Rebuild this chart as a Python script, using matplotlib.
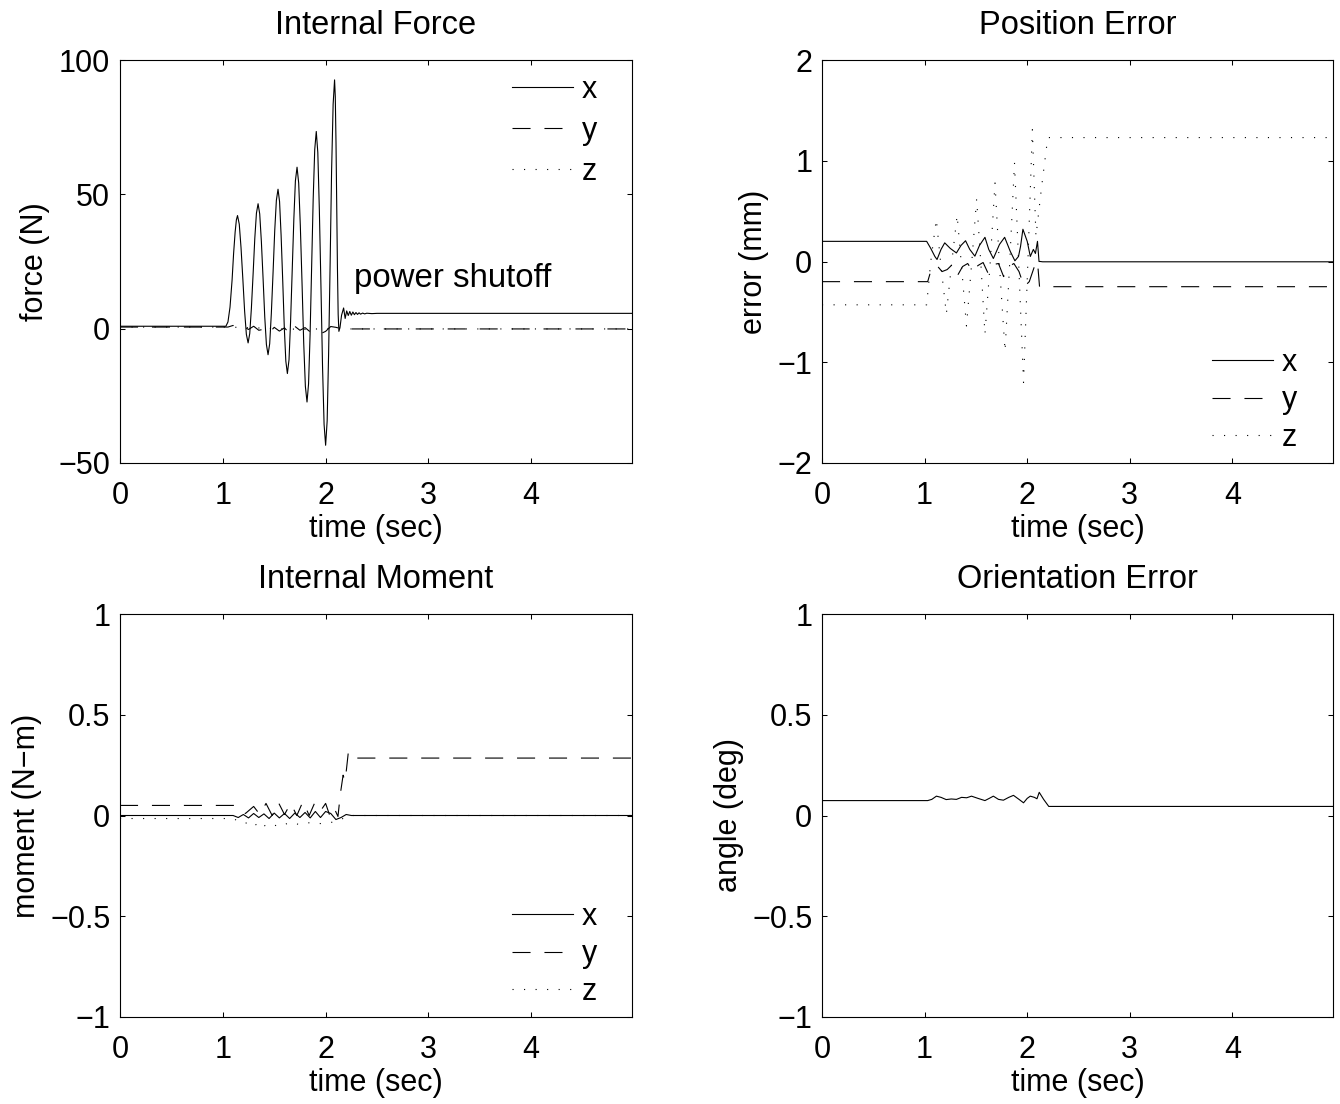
import matplotlib
matplotlib.use("Agg")
import matplotlib.pyplot as plt

plt.rcParams['font.family'] = ['Liberation Sans', 'DejaVu Sans']
plt.rcParams['font.size'] = 22
plt.rcParams['lines.scale_dashes'] = False

# ---------------- data ----------------
T_END = 4.98

# Internal Force (N)
force_x_t = [0, 1.03, 1.05, 1.07, 1.09, 1.105, 1.12, 1.132, 1.143,
             1.160, 1.177, 1.195, 1.212, 1.229, 1.246,
             1.262, 1.278, 1.295, 1.311, 1.327, 1.343,
             1.359, 1.375, 1.392, 1.408, 1.424, 1.44,
             1.456, 1.472, 1.489, 1.505, 1.521, 1.537,
             1.552, 1.567, 1.583, 1.598, 1.613, 1.628,
             1.644, 1.659, 1.675, 1.691, 1.706, 1.722,
             1.738, 1.754, 1.771, 1.787, 1.803, 1.819,
             1.834, 1.849, 1.864, 1.879, 1.894, 1.909,
             1.924, 1.939, 1.955, 1.970, 1.985, 2.0,
             2.015, 2.029, 2.044, 2.058, 2.073, 2.087,
             2.094, 2.101, 2.108, 2.115, 2.122, 2.129,
             2.14, 2.155, 2.175, 2.19, 2.205, 2.22, 2.235, 2.25, 2.265, 2.28,
             2.295, 2.31, 2.325, 2.34, 2.36, 2.38, 2.40, 2.45, 2.5, T_END]
force_x_v = [0.9, 0.9, 2.5, 8, 18, 28, 36, 40.5, 42.1,
             38.9, 30.25, 18.4, 6.55, -2.1, -5.3,
             -1.8, 7.65, 20.6, 33.55, 43.0, 46.5,
             42.7, 32.45, 18.4, 4.35, -5.9, -9.7,
             -5.6, 5.7, 21.1, 36.5, 47.8, 51.9,
             47.3, 34.75, 17.6, 0.45, -12.1, -16.7,
             -11.55, 2.5, 21.7, 40.9, 55.0, 60.1,
             54.2, 38.25, 16.4, -5.45, -21.45, -27.3,
             -20.55, -2.1, 23.05, 48.2, 66.65, 73.4,
             65.6, 44.2, 15.0, -14.2, -35.6, -43.4,
             -34.3, -9.4, 24.6, 58.6, 83.5, 92.6,
             86.3, 69.2, 45.8, 22.4, 5.3, -1.0,
             0.5, 5.0, 7.7, 3.8, 6.6, 4.9, 6.4, 5.0, 6.2, 5.2,
             6.0, 5.3, 5.9, 5.4, 5.8, 5.5, 5.75, 5.6, 5.7, 5.7]
force_y_t = [0, 1.05, 1.10, 1.15, 1.20, 1.25, 1.30, 1.35, 1.40, 1.45, 1.50,
             1.55, 1.60, 1.65, 1.70, 1.75, 1.80, 1.85, 1.90, 1.95, 2.0,
             2.05, 2.10, 2.15, 2.20, T_END]
force_y_v = [0.6, 0.6, 1.2, 0.2, 0.8, -0.3, 0.9, -0.6, -0.2, -1.6, 0.5,
             -0.9, 0.3, -1.8, 0.9, -0.6, 0.4, -1.2, -0.8, -1.9, -1.0,
             0.8, 0.5, 0.0, -0.1, -0.1]
force_z_t = [0, 1.05, 1.4, 1.8, 2.1, 2.2, T_END]
force_z_v = [0.6, 0.6, 0.2, -0.3, 0.2, -0.1, -0.1]

# Position Error (mm)
pos_x_t = [0, 1.02, 1.06, 1.10, 1.121, 1.16, 1.196, 1.25, 1.31, 1.355, 1.399,
           1.44, 1.49, 1.535, 1.588, 1.625, 1.67, 1.73, 1.78, 1.835, 1.88,
           1.915, 1.935, 1.958, 2.0, 2.03, 2.06, 2.08, 2.10, 2.115, 2.127, 2.15, T_END]
pos_x_v = [0.2, 0.2, 0.13, 0.05, 0.02, 0.12, 0.185, 0.13, 0.085, 0.16, 0.206,
           0.12, 0.053, 0.16, 0.24, 0.12, 0.03, 0.17, 0.24, 0.10, 0.007,
           0.05, 0.15, 0.32, 0.20, 0.05, 0.12, 0.08, 0.20, 0.0, 0.0, -0.003, -0.003]
pos_y_t = [0, 1.03, 1.07, 1.12, 1.17, 1.22, 1.27, 1.32, 1.37, 1.42, 1.47, 1.52,
           1.57, 1.62, 1.67, 1.72, 1.77, 1.82, 1.87, 1.92, 1.97, 2.02, 2.07,
           2.10, 2.12, 2.13, T_END]
pos_y_v = [-0.2, -0.2, -0.06, -0.04, -0.10, -0.08, -0.03, -0.14, -0.05, -0.02,
           -0.10, -0.04, -0.01, -0.12, -0.03, -0.02, -0.15, -0.05, -0.02, -0.10,
           -0.25, -0.20, -0.05, 0.0, -0.25, -0.25, -0.25]
pos_z_t = [0, 1.02, 1.06, 1.114, 1.16, 1.212, 1.26, 1.317, 1.36, 1.408, 1.46,
           1.507, 1.55, 1.588, 1.64, 1.686, 1.73, 1.784, 1.83, 1.876, 1.92,
           1.964, 2.01, 2.05, 2.085, 2.14, 2.2, T_END]
pos_z_v = [-0.43, -0.43, 0.0, 0.42, -0.05, -0.52, -0.05, 0.46, -0.05, -0.64, 0.0,
           0.62, -0.05, -0.72, 0.0, 0.78, -0.05, -0.89, 0.0, 0.98, -0.1,
           -1.2, 0.1, 1.31, 0.25, 0.74, 1.23, 1.23]

# Internal Moment (N-m)
mom_x_t = [0, 1.1, 1.15, 1.2, 1.25, 1.3, 1.35, 1.4, 1.45, 1.5, 1.55, 1.6, 1.65,
           1.7, 1.75, 1.8, 1.85, 1.9, 1.95, 2.0, 2.05, 2.1, 2.15, 2.2, 2.25, T_END]
mom_x_v = [0, 0, -0.01, 0.005, -0.012, 0.01, -0.01, 0.008, -0.015, 0.012,
           -0.012, 0.01, -0.015, 0.012, -0.01, 0.015, -0.012, 0.02, -0.01, 0.02,
           0.01, -0.02, -0.01, 0.005, 0, 0]
mom_y_t = [0, 1.12, 1.16, 1.22, 1.30, 1.36, 1.42, 1.48, 1.54, 1.60, 1.66, 1.72,
           1.78, 1.84, 1.90, 1.96, 2.00, 2.04, 2.08, 2.12, 2.144, 2.17, 2.19,
           2.22, 2.24, 2.27, 2.30, T_END]
mom_y_v = [0.05, 0.05, 0.025, 0.01, 0.045, 0.005, 0.06, 0.0, 0.065, 0.005, 0.06,
           0.0, 0.07, 0.0, 0.07, 0.03, 0.06, 0.0, 0.04, -0.005, 0.11, 0.2, 0.17,
           0.31, 0.29, 0.3, 0.285, 0.285]
mom_z_t = [0, 1.1, 1.2, 1.3, 1.35, 1.45, 1.55, 1.65, 1.75, 1.85, 1.95, 2.05,
           2.15, 2.22, 2.3, T_END]
mom_z_v = [-0.015, -0.015, -0.04, -0.03, -0.065, -0.04, -0.055, -0.035, -0.045,
           -0.035, -0.04, -0.035, -0.02, 0.0, 0.0, 0.0]

# Orientation Error (deg)
ori_t = [0, 1.03, 1.07, 1.115, 1.16, 1.21, 1.26, 1.31, 1.36, 1.41, 1.457, 1.52,
         1.588, 1.63, 1.67, 1.72, 1.768, 1.82, 1.866, 1.92, 1.964, 2.0, 2.03,
         2.07, 2.095, 2.117, 2.16, 2.21, T_END]
ori_v = [0.074, 0.074, 0.08, 0.096, 0.09, 0.079, 0.082, 0.08, 0.09, 0.088,
         0.096, 0.085, 0.074, 0.085, 0.096, 0.08, 0.076, 0.09, 0.1, 0.08, 0.063,
         0.085, 0.096, 0.09, 0.083, 0.115, 0.08, 0.045, 0.045]

legend_labels = ['x', 'y', 'z']
x_ticks = [0, 1, 2, 3, 4]
titles = ['Internal Force', 'Position Error', 'Internal Moment', 'Orientation Error']
ylabels = ['force (N)', 'error (mm)', 'moment (N\u2212m)', 'angle (deg)']
yticks_list = [[-50, 0, 50, 100], [-2, -1, 0, 1, 2],
               [-1, -0.5, 0, 0.5, 1], [-1, -0.5, 0, 0.5, 1]]
ytick_labels = [['\u221250', '0', '50', '100'],
                ['\u22122', '\u22121', '0', '1', '2'],
                ['\u22121', '\u22120.5', '0', '0.5', '1'],
                ['\u22121', '\u22120.5', '0', '0.5', '1']]
ylims = [(-50, 100), (-2, 2), (-1, 1), (-1, 1)]

# ---------------- figure ----------------
fig = plt.figure(figsize=(13.4, 11.04), dpi=100)
W, H = 1340, 1104
def rect(l, r, t, b):
    return [l / W, 1 - b / H, (r - l) / W, (b - t) / H]

axes = [fig.add_axes(rect(120, 632, 60, 463)),
        fig.add_axes(rect(822, 1333, 60, 463)),
        fig.add_axes(rect(120, 632, 614, 1017)),
        fig.add_axes(rect(822, 1333, 614, 1017))]

LW = 0.8
solid = dict(color='black', lw=LW, linestyle='-')
dashed = dict(color='black', lw=LW, dashes=(13, 10))
dotted = dict(color='black', lw=LW, dashes=(0.8, 7.5))

def style(ax, i):
    ax.set_xlim(0, T_END)
    ax.set_ylim(*ylims[i])
    ax.set_xticks(x_ticks)
    ax.set_xticklabels([str(v) for v in x_ticks])
    ax.set_yticks(yticks_list[i])
    ax.set_yticklabels(ytick_labels[i])
    ax.tick_params(direction='in', length=3.5, width=0.75, top=True, right=True,
                   labelsize=22)
    ax.tick_params(axis='x', pad=13)
    ax.tick_params(axis='y', pad=7)
    for s in ax.spines.values():
        s.set_linewidth(0.8)
    ax.set_title(titles[i], fontsize=23.5, pad=19)
    ax.set_xlabel('time (sec)', fontsize=22, labelpad=2)
    ax.set_ylabel(ylabels[i], fontsize=22, labelpad=6)

leg_kw = dict(frameon=False, borderaxespad=0, borderpad=0, handlelength=2.0,
              handletextpad=0.3, fontsize=22)

ax = axes[0]
ax.plot(force_x_t, force_x_v, label=legend_labels[0], **solid)
ax.plot(force_y_t, force_y_v, label=legend_labels[1], **dashed)
ax.plot(force_z_t, force_z_v, label=legend_labels[2], **dotted)
ax.text(2.28, 18.5, 'power shutoff', fontsize=23.8, va='center', ha='left')
style(ax, 0)
ax.legend(loc='upper right', bbox_to_anchor=(0.932, 0.963),
          labelspacing=0.36, **leg_kw)

ax = axes[1]
ax.plot(pos_x_t, pos_x_v, label=legend_labels[0], **solid)
ax.plot(pos_y_t, pos_y_v, label=legend_labels[1], **dashed)
ax.plot(pos_z_t, pos_z_v, label=legend_labels[2], **dotted)
style(ax, 1)
ax.legend(loc='lower right', bbox_to_anchor=(0.93, 0.025),
          labelspacing=0.25, **leg_kw)

ax = axes[2]
ax.plot(mom_x_t, mom_x_v, label=legend_labels[0], **solid)
ax.plot(mom_y_t, mom_y_v, label=legend_labels[1], **dashed)
ax.plot(mom_z_t, mom_z_v, label=legend_labels[2], **dotted)
style(ax, 2)
ax.legend(loc='lower right', bbox_to_anchor=(0.932, 0.025),
          labelspacing=0.25, **leg_kw)

ax = axes[3]
ax.plot(ori_t, ori_v, **solid)
style(ax, 3)

fig.savefig('out.png', dpi=100)
